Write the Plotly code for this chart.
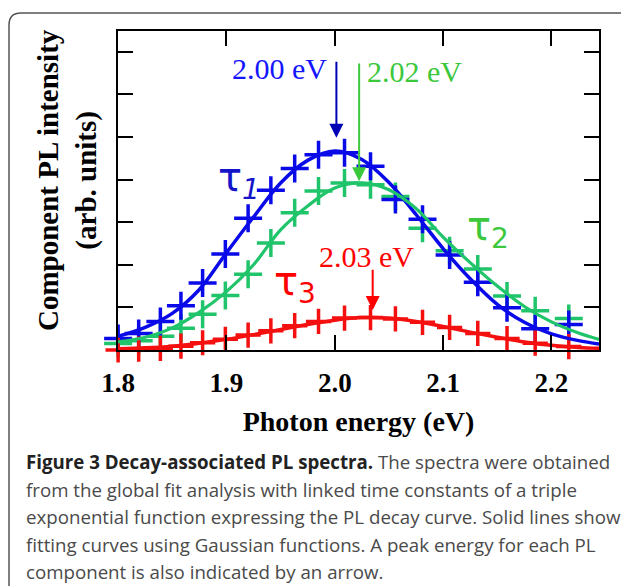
import plotly.graph_objects as go

# ---------------- data ----------------
energy_points = [1.800, 1.819, 1.839, 1.858, 1.878, 1.899, 1.920, 1.941, 1.963, 1.985,
                 2.009, 2.033, 2.056, 2.081, 2.106, 2.132, 2.159, 2.185, 2.216, 2.244]
tau1_points = [0.27, 0.39, 0.67, 1.04, 1.57, 2.25, 3.09, 3.75, 4.26, 4.58,
               4.63, 4.31, 3.53, 3.07, 2.23, 1.59, 0.99, 0.50, 0.60, 0.62]
tau2_points = [0.15, 0.22, 0.32, 0.51, 0.84, 1.28, 1.78, 2.51, 3.22, 3.73,
               3.92, 3.88, 3.60, 2.86, 2.33, 1.90, 1.27, 0.92, 0.74, 0.84]
tau3_points = [0.00, 0.02, 0.04, 0.09, 0.17, 0.25, 0.35, 0.45, 0.57, 0.67,
               0.75, 0.76, 0.73, 0.65, 0.53, 0.39, 0.27, 0.16, 0.08, 0.04]

energy_fit = [1.800, 1.825, 1.850, 1.875, 1.900, 1.925, 1.950, 1.975, 2.000, 2.025,
              2.050, 2.075, 2.100, 2.125, 2.150, 2.175, 2.200, 2.225, 2.244]
tau1_fit = [0.32, 0.53, 0.86, 1.42, 2.28, 3.12, 3.92, 4.45, 4.67, 4.47,
            3.93, 3.18, 2.38, 1.67, 1.07, 0.65, 0.38, 0.22, 0.14]
tau2_fit = [0.19, 0.30, 0.52, 0.89, 1.37, 2.00, 2.82, 3.38, 3.80, 3.92,
            3.76, 3.32, 2.65, 2.05, 1.50, 1.02, 0.66, 0.40, 0.25]
tau3_fit = [0.03, 0.05, 0.09, 0.16, 0.25, 0.36, 0.48, 0.60, 0.70, 0.76,
            0.75, 0.67, 0.55, 0.42, 0.30, 0.19, 0.11, 0.06, 0.04]

x_tick_vals = [1.8, 1.9, 2.0, 2.1, 2.2]
x_tick_text = ["1.8", "1.9", "2.0", "2.1", "2.2"]
y_tick_vals = [1, 2, 3, 4, 5, 6, 7]

peak_labels = ["2.00 eV", "2.02 eV", "2.03 eV"]
arrow_x = [2.0015, 2.0225, 2.035]
arrow_tail_y = [6.80, 6.76, 1.92]
arrow_tip_y = [4.98, 3.96, 0.94]

component_names = ["τ<sub><i>1</i></sub>", "τ<sub>2</sub>", "τ<sub>3</sub>"]

caption_lines = [
    "<span style='color:#222222'><b>Figure 3 Decay-associated PL spectra.</b></span> The spectra were obtained",
    "from the global fit analysis with linked time constants of a triple",
    "exponential function expressing the PL decay curve. Solid lines show",
    "fitting curves using Gaussian functions. A peak energy for each PL",
    "component is also indicated by an arrow.",
]

# ---------------- styling ----------------
OFF = 8                      # default page body margin
PAGE_W, PAGE_H = 629, 586
W, H = PAGE_W - OFF, PAGE_H - OFF
PLOT_L, PLOT_R, PLOT_T, PLOT_B = 118, 599, 31, 350   # page pixels
ML, MR, MT, MB = PLOT_L - OFF, PAGE_W - PLOT_R, PLOT_T - OFF, PAGE_H - PLOT_B
PW, PH = PLOT_R - PLOT_L, PLOT_B - PLOT_T


def px_x(px):
    return (px - PLOT_L) / PW


def px_y(py):
    return (PLOT_B - py) / PH


BLUE = "#0a0ae8"
GREEN = "#20c46a"
RED = "#f51010"
SERIF = "Liberation Serif"

fig = go.Figure()

for ys, col, sz in [(tau2_points, GREEN, 20), (tau1_points, BLUE, 20), (tau3_points, RED, 18)]:
    fig.add_trace(go.Scatter(
        x=energy_points, y=ys, mode="markers", cliponaxis=False,
        marker=dict(symbol="cross-thin", size=sz, color=col, line=dict(width=3.5, color=col)),
        showlegend=False, hoverinfo="skip"))

for ys, col, w in [(tau1_fit, BLUE, 3.5), (tau2_fit, GREEN, 3.2), (tau3_fit, RED, 3.5)]:
    fig.add_trace(go.Scatter(
        x=energy_fit, y=ys, mode="lines", cliponaxis=False,
        line=dict(color=col, width=w, shape="spline", smoothing=1.0),
        showlegend=False, hoverinfo="skip"))

fig.update_layout(
    width=W, height=H,
    margin=dict(l=ML, r=MR, t=MT, b=MB),
    paper_bgcolor="white", plot_bgcolor="white",
    showlegend=False,
    xaxis=dict(
        range=[1.7999, 2.2439], tickvals=x_tick_vals, ticktext=x_tick_text,
        ticks="inside", ticklen=15, tickwidth=2, tickcolor="black",
        showline=True, linewidth=2, linecolor="black", mirror="ticks",
        showgrid=False, zeroline=False,
        tickfont=dict(family=SERIF, size=27, color="black", weight="bold"),
        ticklabelstandoff=8,
        title=dict(text="Photon energy (eV)", standoff=14,
                   font=dict(family=SERIF, size=28, color="black", weight="bold")),
    ),
    yaxis=dict(
        range=[0, 7.486], tickvals=y_tick_vals, showticklabels=False,
        ticks="inside", ticklen=15, tickwidth=2, tickcolor="black",
        showline=True, linewidth=2, linecolor="black", mirror="ticks",
        showgrid=False, zeroline=False,
    ),
)

ann = []
ann.append(dict(xref="paper", yref="paper", x=px_x(67), y=px_y(180), textangle=-90,
                text="<b>Component PL intensity</b><br><b>(arb. units)</b>", showarrow=False,
                xanchor="center", yanchor="middle",
                font=dict(family=SERIF, size=29, color="black")))

arrow_cols = ["#0000b4", "#3cc83c", "#ff0000"]
for xa, yt, yh, c in zip(arrow_x, arrow_tail_y, arrow_tip_y, arrow_cols):
    ann.append(dict(x=xa, y=yh, ax=xa, ay=yt, xref="x", yref="y", axref="x", ayref="y",
                    text="", showarrow=True, arrowhead=2, arrowsize=1.4, arrowwidth=2,
                    arrowcolor=c))

label_cols = ["#1414ff", "#3cc83c", "#ff0000"]
ann.append(dict(x=1.9945, y=6.60, xref="x", yref="y", text=peak_labels[0], showarrow=False,
                xanchor="right", yanchor="middle",
                font=dict(family=SERIF, size=30, color=label_cols[0])))
ann.append(dict(x=2.0280, y=6.53, xref="x", yref="y", text=peak_labels[1], showarrow=False,
                xanchor="left", yanchor="middle",
                font=dict(family=SERIF, size=30, color=label_cols[1])))
ann.append(dict(x=1.9835, y=2.20, xref="x", yref="y", text=peak_labels[2], showarrow=False,
                xanchor="left", yanchor="middle",
                font=dict(family=SERIF, size=30, color=label_cols[2])))

comp_cols = ["#1414c8", "#3cc83c", "#ff0000"]
comp_pos = [(1.890, 4.00), (2.1205, 2.85), (1.9425, 1.56)]
for name, (xc, yc), c in zip(component_names, comp_pos, comp_cols):
    ann.append(dict(x=xc, y=yc, xref="x", yref="y", text=name, showarrow=False,
                    xanchor="left", yanchor="middle",
                    font=dict(family="DejaVu Sans", size=40, color=c)))

cap_y = [461.5, 489, 516.5, 544, 571.5]
for line, cy in zip(caption_lines, cap_y):
    ann.append(dict(xref="paper", yref="paper", x=px_x(24), y=px_y(cy), text=line,
                    showarrow=False, xanchor="left", yanchor="middle",
                    font=dict(family="Open Sans", size=18.7, color="#4a4a4a")))

fig.update_layout(annotations=ann)

x0, y0, r = px_x(9), px_y(13), 12
rx, ry = r / PW, r / PH
xr, yb = px_x(650), px_y(620)
path = f"M {x0},{yb} L {x0},{y0 - ry} Q {x0},{y0} {x0 + rx},{y0} L {xr},{y0}"
fig.add_shape(type="path", xref="paper", yref="paper", path=path,
              line=dict(color="#555555", width=1.5), layer="above")

fig.write_html("out.html")
